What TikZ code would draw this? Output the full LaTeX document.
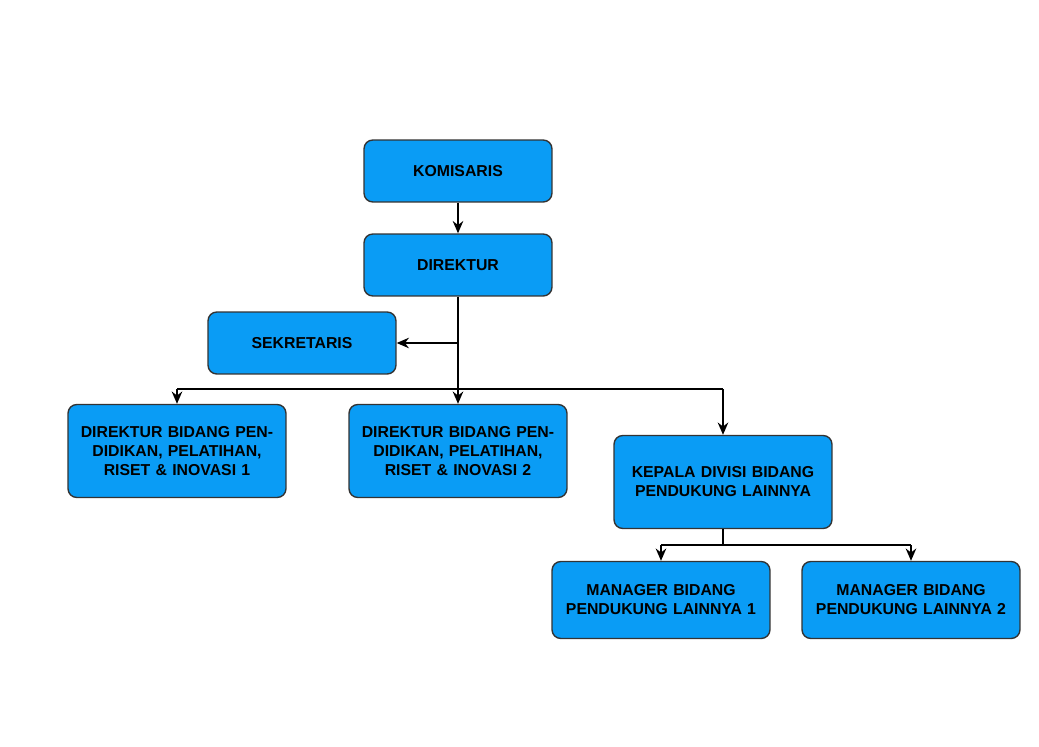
\documentclass[tikz,border=0pt]{standalone}
\usepackage{fontspec}
\setmainfont{Liberation Sans}
\usetikzlibrary{arrows.meta}
\definecolor{boxblue}{HTML}{0A9CF5}
\begin{document}
\begin{tikzpicture}[x=0.02cm,y=-0.02cm,
  box/.style={draw=black!80,line width=0.8pt,fill=boxblue,rounded corners=5pt,align=center,
    font=\fontsize{9}{10.8}\selectfont\bfseries,inner sep=1pt},
  sbox/.style={box,minimum width=3.76cm,minimum height=1.24cm,text width=3.6cm},
  wbox/.style={box,minimum width=4.36cm,minimum height=1.86cm,text width=4.2cm},
  mbox/.style={box,minimum width=4.36cm,minimum height=1.54cm,text width=4.2cm},
  arr/.style={-{Stealth[length=7pt,width=6pt]},line width=0.8pt},
  ln/.style={line width=0.8pt}]
\useasboundingbox (0,0) rectangle (1039,747);
\node[sbox] (kom) at (458,171) {KOMISARIS};
\node[sbox] (dir) at (458,265) {DIREKTUR};
\node[sbox] (sek) at (302,343) {SEKRETARIS};
\node[wbox] (d1) at (177,451) {DIREKTUR BIDANG PENDIDIKAN, PELATIHAN, RISET \& INOVASI 1};
\node[wbox] (d2) at (458,451) {DIREKTUR BIDANG PENDIDIKAN, PELATIHAN, RISET \& INOVASI 2};
\node[wbox] (kep) at (723,482) {KEPALA DIVISI BIDANG PENDUKUNG LAINNYA};
\node[mbox] (m1) at (661,600) {MANAGER BIDANG PENDUKUNG LAINNYA 1};
\node[mbox] (m2) at (911,600) {MANAGER BIDANG PENDUKUNG LAINNYA 2};
\coordinate (js) at (458,343);
\coordinate (jd) at (458,389);
\coordinate (jl) at (177,389);
\coordinate (jr) at (723,389);
\coordinate (jk) at (723,545);
\coordinate (jm1) at (661,545);
\coordinate (jm2) at (911,545);
\draw[arr] (kom) -- (dir);
\draw[arr] (dir) -- (d2);
\draw[arr] (js) -- (sek);
\draw[ln] (jl) -- (jr);
\draw[arr] (jl) -- (d1);
\draw[arr] (jr) -- (kep);
\draw[ln] (kep) -- (jk);
\draw[ln] (jm1) -- (jm2);
\draw[arr] (jm1) -- (m1);
\draw[arr] (jm2) -- (m2);
\end{tikzpicture}
\end{document}
